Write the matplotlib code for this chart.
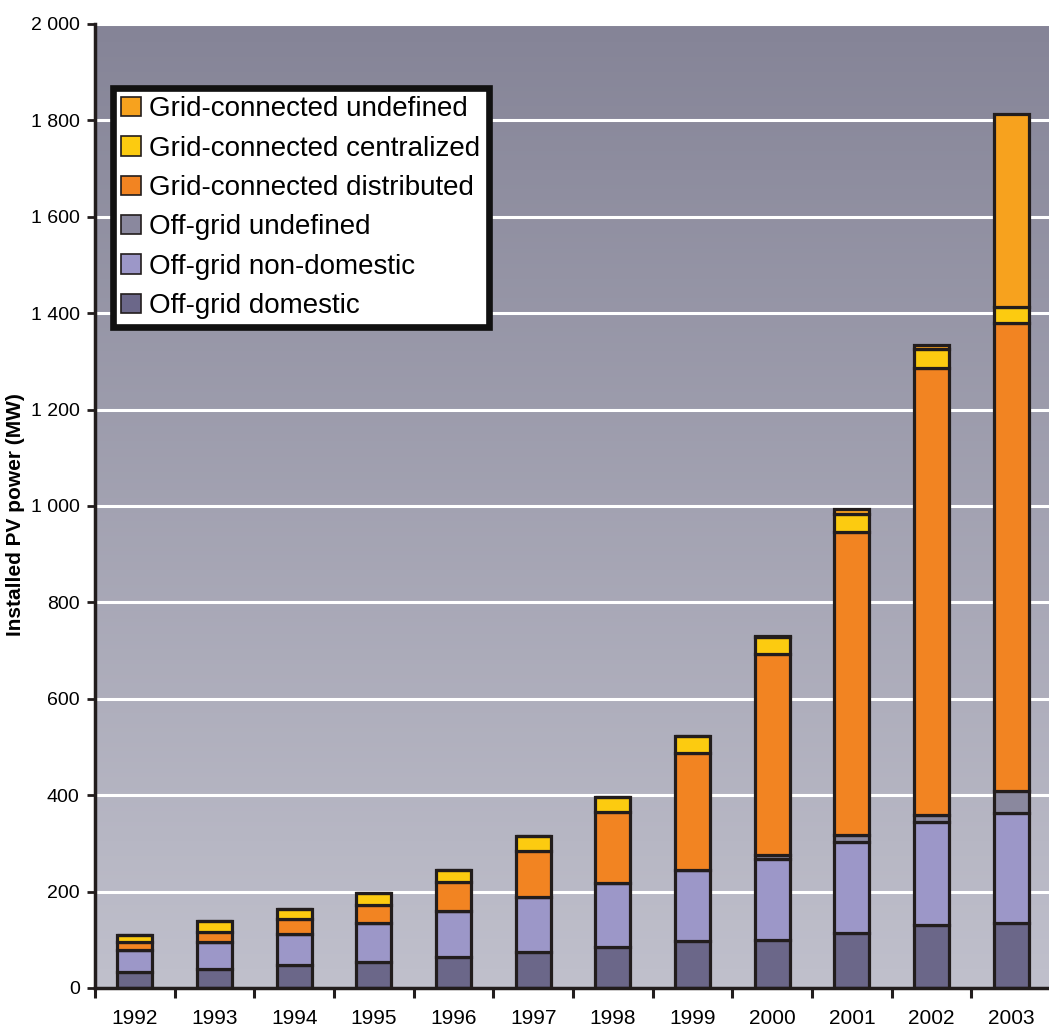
import numpy as np
import matplotlib
matplotlib.use("Agg")
import matplotlib.pyplot as plt
from matplotlib.colors import LinearSegmentedColormap
from matplotlib.patches import Patch

# Installed PV power by application (MW)
years = ["1992", "1993", "1994", "1995", "1996", "1997",
         "1998", "1999", "2000", "2001", "2002", "2003"]
off_domestic = [33, 40, 47, 54, 64, 74, 85, 97, 100, 114, 131, 135]
off_nondomestic = [46, 56, 66, 80, 96, 114, 132, 148, 168, 189, 214, 228]
off_undefined = [0, 0, 0, 0, 0, 0, 0, 0, 8, 14, 13, 46]
grid_distributed = [17, 21, 30, 39, 60, 96, 148, 242, 416, 630, 928, 971]
grid_centralized = [14, 22, 21, 25, 24, 32, 31, 36, 36, 36, 39, 33]
grid_undefined = [0, 0, 0, 0, 0, 0, 0, 0, 3, 10, 10, 400]

series = [
    ("Off-grid domestic", off_domestic, "#6b6789"),
    ("Off-grid non-domestic", off_nondomestic, "#9c97c8"),
    ("Off-grid undefined", off_undefined, "#8a889e"),
    ("Grid-connected distributed", grid_distributed, "#f28422"),
    ("Grid-connected centralized", grid_centralized, "#fccb10"),
    ("Grid-connected undefined", grid_undefined, "#f7a21e"),
]

yticks = [0, 200, 400, 600, 800, 1000, 1200, 1400, 1600, 1800, 2000]
ytick_labels = ["0", "200", "400", "600", "800", "1 000", "1 200",
                "1 400", "1 600", "1 800", "2 000"]

font = ["Liberation Sans", "DejaVu Sans"]
edge = "#221d1d"

W, H = 1049, 1035
fig = plt.figure(figsize=(W / 100, H / 100), dpi=100)
fig.patch.set_facecolor("white")
ax = fig.add_axes([95 / W, (H - 988) / H, (1051 - 95) / W, (988 - 24) / H])

# background gradient, darker at the top
grad = LinearSegmentedColormap.from_list("bg", ["#c0c0cc", "#858497"])
ax.imshow(np.linspace(0, 1, 256).reshape(-1, 1), extent=[-0.5, 11.5, 0, 2000],
          aspect="auto", origin="lower", cmap=grad, zorder=0)

x = np.arange(len(years))
bottom = np.zeros(len(years))
for name, vals, col in series:
    vals = np.array(vals, dtype=float)
    ax.bar(x, vals, 0.44, bottom=bottom, color=col, edgecolor=edge,
           linewidth=2.3, label=name, zorder=2)
    bottom += vals

ax.set_xlim(-0.5, 11.5)
ax.set_ylim(0, 2000)
ax.set_axisbelow(True)
ax.yaxis.grid(True, color="white", linewidth=2.2)
ax.xaxis.grid(False)

ax.set_yticks(yticks)
ax.set_yticklabels(ytick_labels, family=font, fontsize=14)
ax.set_xticks(x)
ax.set_xticklabels(years, family=font, fontsize=15)
ax.set_xticks(np.arange(-0.5, 12, 1), minor=True)
ax.tick_params(axis="x", which="major", length=0, pad=15)
ax.tick_params(axis="x", which="minor", length=7, width=2.2, color=edge)
ax.tick_params(axis="y", length=6, width=2, color=edge, pad=5)

for s in ["top", "right"]:
    ax.spines[s].set_visible(False)
for s in ["left", "bottom"]:
    ax.spines[s].set_linewidth(2.5)
    ax.spines[s].set_color(edge)

fig.text(16 / W, 1 - 515 / H, "Installed PV power (MW)", rotation=90,
         ha="center", va="center", fontsize=15, fontweight="bold", family=font)

handles = [Patch(facecolor=c, edgecolor=edge, linewidth=1.2) for _, _, c in series][::-1]
labels = [n for n, _, _ in series][::-1]
leg = ax.legend(handles, labels, loc="upper left",
                bbox_to_anchor=(113 / W, 1 - 88 / H), bbox_transform=fig.transFigure,
                prop={"family": font, "size": 20},
                fancybox=False, framealpha=1, edgecolor="#111111",
                handlelength=0.7, handleheight=0.7, handletextpad=0.3,
                labelspacing=0.48, borderpad=0.3, borderaxespad=0)
leg.get_frame().set_linewidth(4.8)
leg.set_zorder(5)

fig.savefig("out.png", dpi=100)
